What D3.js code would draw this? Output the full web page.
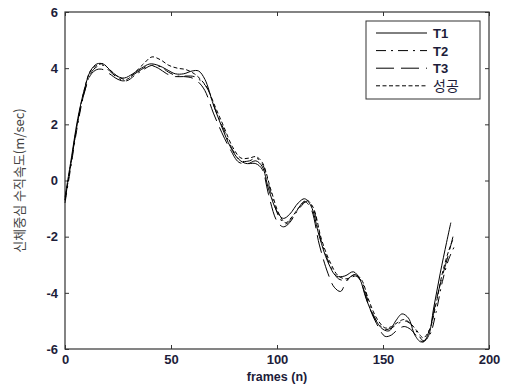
<!DOCTYPE html>
<html>
<head>
<meta charset="utf-8">
<script src="https://cdn.jsdelivr.net/npm/d3@7"></script>
<style>
  html, body { margin: 0; padding: 0; background: #fff; }
  svg { display: block; }
  .tick-label { font-family: "Liberation Sans", Arial, sans-serif; font-size: 13px; font-weight: bold; fill: #1d1d3a; }
</style>
</head>
<body>
<div id="chart"></div>
<script>
// frames for each curve, with the velocity (m/sec)
const framesT1 = [0, 3, 6, 9, 12, 15, 18, 21, 25, 28, 32, 36, 40, 44, 48, 52, 56, 60, 63, 66, 70, 74, 78, 82, 86, 90, 93, 96, 100, 103, 106, 110, 113, 116, 120, 124, 128, 132, 136, 139, 142, 146, 150, 153, 156, 159, 162, 165, 168, 171, 174, 177, 180, 182];
const valuesT1 = [-0.6, 0.8, 2.2, 3.2, 3.9, 4.15, 4.15, 3.95, 3.7, 3.65, 3.8, 4.0, 4.15, 4.1, 3.95, 3.8, 3.8, 3.9, 3.9, 3.6, 2.7, 1.9, 1.2, 0.75, 0.6, 0.7, 0.5, -0.3, -1.1, -1.35, -1.2, -0.8, -0.65, -0.9, -2.0, -2.9, -3.4, -3.4, -3.25, -3.5, -4.2, -4.9, -5.3, -5.35, -5.0, -4.75, -4.9, -5.5, -5.75, -5.6, -4.5, -3.3, -2.2, -1.5];

const framesT2 = [0, 3, 6, 9, 12, 15, 18, 21, 25, 29, 33, 37, 41, 45, 49, 53, 57, 61, 64, 67, 71, 75, 79, 83, 87, 90, 93, 97, 101, 104, 107, 111, 114, 117, 121, 125, 129, 133, 137, 140, 143, 147, 151, 154, 157, 160, 163, 166, 169, 172, 175, 178, 181, 184];
const valuesT2 = [-0.8, 0.6, 2.0, 3.1, 3.8, 4.05, 4.1, 3.9, 3.65, 3.55, 3.75, 3.95, 4.1, 4.05, 3.85, 3.72, 3.72, 3.7, 3.55, 3.3, 2.5, 1.8, 1.1, 0.7, 0.7, 0.8, 0.6, -0.4, -1.3, -1.55, -1.35, -0.95, -0.75, -1.0, -2.2, -3.0, -3.5, -3.55, -3.4, -3.6, -4.3, -5.0, -5.3, -5.25, -5.1, -5.0, -5.1, -5.4, -5.7, -5.5, -4.7, -3.6, -2.8, -2.3];

const framesT3 = [0, 3, 6, 9, 12, 15, 18, 21, 25, 28, 32, 36, 40, 44, 48, 52, 56, 60, 63, 66, 70, 74, 78, 82, 86, 90, 93, 96, 100, 103, 106, 110, 113, 116, 120, 124, 127, 130, 133, 137, 140, 143, 147, 151, 154, 157, 160, 163, 166, 169, 172, 175, 178, 181, 183];
const valuesT3 = [-0.7, 0.7, 2.1, 3.1, 3.75, 3.95, 3.95, 3.8, 3.6, 3.55, 3.75, 3.95, 4.1, 4.0, 3.8, 3.7, 3.7, 3.65, 3.5, 3.2, 2.4, 1.7, 1.1, 0.65, 0.6, 0.6, 0.4, -0.5, -1.45, -1.65, -1.5, -1.0, -0.75, -1.0, -2.3, -3.3, -3.8, -3.95, -3.55, -3.35, -3.7, -4.4, -5.1, -5.55, -5.5, -5.3, -5.2, -5.3, -5.55, -5.75, -5.3, -4.3, -3.4, -2.6, -2.0];

const framesSuccess = [0, 3, 6, 9, 12, 15, 18, 21, 25, 29, 33, 37, 41, 45, 49, 53, 57, 61, 64, 67, 71, 75, 79, 83, 87, 90, 93, 97, 101, 104, 107, 111, 114, 117, 121, 125, 129, 133, 137, 140, 143, 147, 151, 154, 157, 160, 163, 166, 169, 172, 175, 178, 181, 183];
const valuesSuccess = [-0.7, 0.7, 2.1, 3.2, 3.9, 4.1, 4.15, 3.95, 3.7, 3.6, 3.85, 4.15, 4.4, 4.3, 4.1, 4.0, 3.95, 3.8, 3.6, 3.3, 2.6, 1.9, 1.2, 0.8, 0.8, 0.85, 0.65, -0.3, -1.2, -1.5, -1.3, -0.9, -0.7, -0.95, -2.1, -2.9, -3.4, -3.5, -3.35, -3.55, -4.2, -4.9, -5.25, -5.2, -5.05, -4.95, -5.1, -5.35, -5.6, -5.3, -4.4, -3.3, -2.5, -2.1];

const seriesNames = ['T1', 'T2', 'T3', '성공'];
const xTicks = [0, 50, 100, 150, 200];
const yTicks = [-6, -4, -2, 0, 2, 4, 6];

const series = [
    { name: seriesNames[0], frames: framesT1, values: valuesT1, dash: null },
    { name: seriesNames[1], frames: framesT2, values: valuesT2, dash: '10,5,2,5' },
    { name: seriesNames[2], frames: framesT3, values: valuesT3, dash: '18,7' },
    { name: seriesNames[3], frames: framesSuccess, values: valuesSuccess, dash: '4,2.5' }
];

const width = 506, height = 386;
const margin = { top: 12, right: 17, bottom: 37, left: 65 };
const innerW = width - margin.left - margin.right;
const innerH = height - margin.top - margin.bottom;

const svg = d3.select('#chart').append('svg')
    .attr('width', width)
    .attr('height', height);

const g = svg.append('g')
    .attr('transform', `translate(${margin.left},${margin.top})`);

const x = d3.scaleLinear().domain([0, 200]).range([0, innerW]);
const y = d3.scaleLinear().domain([-6, 6]).range([innerH, 0]);

// box frame
g.append('rect')
    .attr('width', innerW)
    .attr('height', innerH)
    .attr('fill', 'none')
    .attr('stroke', '#333')
    .attr('stroke-width', 1.2);

// inward ticks on all four sides, labels on bottom/left only
const tickLen = 4;
const bottomAxis = g.append('g').attr('transform', `translate(0,${innerH})`)
    .call(d3.axisBottom(x).tickValues(xTicks).tickSize(-tickLen).tickPadding(6));
const topAxis = g.append('g')
    .call(d3.axisTop(x).tickValues(xTicks).tickSize(-tickLen).tickFormat(''));
const leftAxis = g.append('g')
    .call(d3.axisLeft(y).tickValues(yTicks).tickSize(-tickLen).tickPadding(7));
const rightAxis = g.append('g').attr('transform', `translate(${innerW},0)`)
    .call(d3.axisRight(y).tickValues(yTicks).tickSize(-tickLen).tickFormat(''));

[bottomAxis, topAxis, leftAxis, rightAxis].forEach(a => {
    a.select('.domain').remove();
    a.selectAll('.tick line').attr('stroke', '#333');
    a.selectAll('text').attr('class', 'tick-label').attr('fill', null);
});
leftAxis.selectAll('text').text(d => d < 0 ? '-' + Math.abs(d) : d);

// curves
const line = d3.line()
    .x(d => x(d[0]))
    .y(d => y(d[1]))
    .curve(d3.curveCatmullRom.alpha(0.5));

series.forEach(s => {
    const pts = s.frames.map((f, i) => [f, s.values[i]]);
    g.append('path')
        .datum(pts)
        .attr('fill', 'none')
        .attr('stroke', '#000')
        .attr('stroke-width', 1)
        .attr('stroke-dasharray', s.dash)
        .attr('d', line);
});

// legend
const legend = g.append('g').attr('transform', `translate(${366 - margin.left},${21 - margin.top})`);
legend.append('rect')
    .attr('width', 114)
    .attr('height', 78)
    .attr('fill', '#fff')
    .attr('stroke', '#333')
    .attr('stroke-width', 1);

series.forEach((s, i) => {
    const ly = 12 + i * 17.6;
    legend.append('line')
        .attr('x1', 10).attr('x2', 61)
        .attr('y1', ly).attr('y2', ly)
        .attr('stroke', '#000')
        .attr('stroke-width', 1)
        .attr('stroke-dasharray', s.dash);
    legend.append('text')
        .attr('x', 67)
        .attr('y', ly + 5)
        .attr('class', 'tick-label')
        .style('font-size', i === 3 ? '14px' : '13px')
        .style('font-weight', i === 3 ? 'normal' : 'bold')
        .style('font-family', i === 3 ? '"Noto Sans CJK KR", sans-serif' : null)
        .text(s.name);
});

// axis titles
svg.append('text')
    .attr('x', margin.left + innerW / 2)
    .attr('y', 381)
    .attr('text-anchor', 'middle')
    .attr('class', 'tick-label')
    .style('font-size', '12.5px')
    .text('frames (n)');

svg.append('text')
    .attr('transform', `translate(24,${margin.top + innerH / 2}) rotate(-90)`)
    .attr('text-anchor', 'middle')
    .style('font-family', '"Noto Sans CJK KR", sans-serif')
    .style('font-size', '13px')
    .style('fill', '#444')
    .text('신체중심 수직속도(m/sec)');
</script>
</body>
</html>
